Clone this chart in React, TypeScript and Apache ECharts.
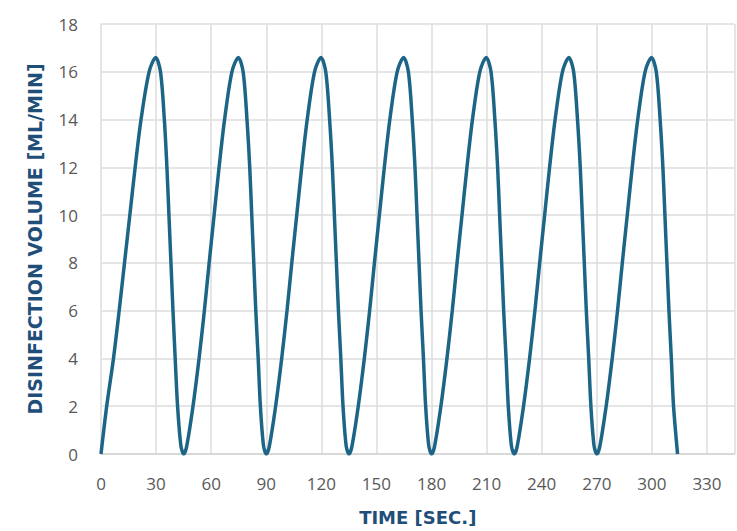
import React, { useEffect, useRef } from "react";
import * as echarts from "echarts";

// Time [sec.] / volume [ml/min] pairs
const cycle1: number[][] = [
  [0, 0], [3.1, 2], [6.8, 4], [9.9, 6], [12.8, 8], [15.7, 10], [18.6, 12], [21.8, 14], [26.2, 16], [29.8, 16.6],
  [32.4, 16], [34.5, 14], [35.9, 12], [37.0, 10], [38.1, 8], [39.2, 6], [40.4, 4], [41.7, 2], [43.5, 0.35],
];
const cycle2: number[][] = [
  [45, 0], [46.6, 0.3], [50.1, 2], [53.4, 4], [56.3, 6], [58.9, 8], [61.6, 10], [64.3, 12], [67.3, 14], [71.3, 16], [74.8, 16.6],
  [77.4, 16], [79.5, 14], [81, 12], [82.1, 10], [83.2, 8], [84.3, 6], [85.6, 4], [86.8, 2], [88.5, 0.35],
];
const cycle3: number[][] = [
  [90, 0], [91.6, 0.3], [95.1, 2], [98.4, 4], [101.3, 6], [103.9, 8], [106.6, 10], [109.3, 12], [112.3, 14], [116.3, 16], [119.8, 16.6],
  [122.4, 16], [124.5, 14], [126, 12], [127.1, 10], [128.2, 8], [129.3, 6], [130.6, 4], [131.8, 2], [133.5, 0.35],
];
const cycle4: number[][] = [
  [135, 0], [136.6, 0.3], [140.1, 2], [143.4, 4], [146.3, 6], [148.9, 8], [151.6, 10], [154.3, 12], [157.3, 14], [161.3, 16], [164.8, 16.6],
  [167.4, 16], [169.5, 14], [171, 12], [172.1, 10], [173.2, 8], [174.3, 6], [175.6, 4], [176.8, 2], [178.5, 0.35],
];
const cycle5: number[][] = [
  [180, 0], [181.6, 0.3], [185.1, 2], [188.4, 4], [191.3, 6], [193.9, 8], [196.6, 10], [199.3, 12], [202.3, 14], [206.3, 16], [209.8, 16.6],
  [212.4, 16], [214.5, 14], [216, 12], [217.1, 10], [218.2, 8], [219.3, 6], [220.6, 4], [221.8, 2], [223.5, 0.35],
];
const cycle6: number[][] = [
  [225, 0], [226.6, 0.3], [230.1, 2], [233.4, 4], [236.3, 6], [238.9, 8], [241.6, 10], [244.3, 12], [247.3, 14], [251.3, 16], [254.8, 16.6],
  [257.4, 16], [259.5, 14], [261, 12], [262.1, 10], [263.2, 8], [264.3, 6], [265.6, 4], [266.8, 2], [268.5, 0.35],
];
const cycle7: number[][] = [
  [270, 0], [271.6, 0.3], [275.1, 2], [278.4, 4], [281.3, 6], [283.9, 8], [286.6, 10], [289.3, 12], [292.3, 14], [296.3, 16], [299.8, 16.6],
  [302.4, 16], [304.5, 14], [306, 12], [307.1, 10], [308.2, 8], [309.3, 6], [310.6, 4], [311.8, 2], [314, 0],
];

const xName = "TIME [SEC.]";
const yName = "DISINFECTION VOLUME [ML/MIN]";

export default function App() {
  const ref = useRef<HTMLDivElement>(null);
  useEffect(() => {
    if (!ref.current) return;
    const chart = echarts.init(ref.current, undefined, { renderer: "svg" });
    const data = [...cycle1, ...cycle2, ...cycle3, ...cycle4, ...cycle5, ...cycle6, ...cycle7];
    const gridLine = { show: true, lineStyle: { color: "#dcdcdc", width: 1.5 } };
    chart.setOption({
      animation: false,
      backgroundColor: "#ffffff",
      grid: { left: 101, right: 2.5, top: 24, bottom: 75, containLabel: false },
      xAxis: {
        type: "value",
        min: 0,
        max: 345,
        interval: 30,
        name: xName,
        nameLocation: "middle",
        nameGap: 54,
        nameTextStyle: { color: "#1f4e79", fontSize: 18, fontWeight: "bold", fontFamily: "DejaVu Sans" },
        axisLine: { show: true, lineStyle: { color: "#d4d4d4", width: 1.5 } },
        axisTick: { show: false },
        axisLabel: { color: "#595959", fontSize: 17, fontFamily: "Open Sans", margin: 21, showMaxLabel: false },
        splitLine: gridLine,
      },
      yAxis: {
        type: "value",
        min: 0,
        max: 18,
        interval: 2,
        name: yName,
        nameLocation: "middle",
        nameGap: 57,
        nameTextStyle: { color: "#1f4e79", fontSize: 19, fontWeight: "bold", fontFamily: "DejaVu Sans" },
        axisLine: { show: true, lineStyle: { color: "#e4e4e4", width: 1.5 } },
        axisTick: { show: false },
        axisLabel: { color: "#595959", fontSize: 17, fontFamily: "Open Sans", margin: 23 },
        splitLine: gridLine,
      },
      series: [
        {
          type: "line",
          data,
          smooth: 0.3,
          showSymbol: false,
          lineStyle: { color: "#1d6586", width: 3.5 },
        },
      ],
    });
    return () => chart.dispose();
  }, []);
  return (
    <div
      ref={ref}
      style={{ position: "fixed", left: 0, top: 0, width: 737, height: 531, background: "#fff" }}
    />
  );
}
